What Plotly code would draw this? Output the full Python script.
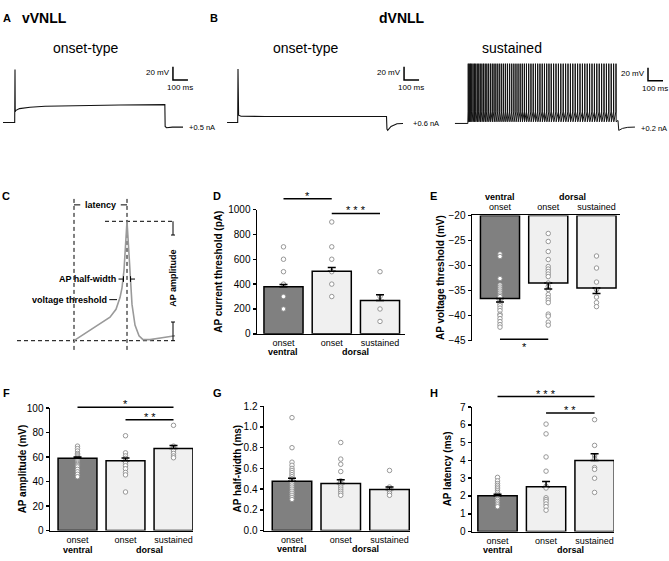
import plotly.graph_objects as go

W, H = 669, 561
FONT = "Liberation Sans, Arial, Helvetica, sans-serif"

# ============================ DATA ============================
# A / B : example recordings (time in ms, membrane potential in mV)
vv_onset_t = [20, 98, 100, 101.5, 104, 130, 200, 300, 500, 800, 1099, 1101, 1110, 1150, 1220]
vv_onset_v = [-60, -60, 20, -44, -42, -39, -37, -35.5, -34.5, -33.5, -33, -66, -68, -67, -67]

dv_onset_t = [47, 118, 120, 121.5, 124, 140, 300, 700, 1110, 1113, 1118, 1140, 1180, 1220]
dv_onset_v = [-60, -60, 21, -47, -49, -50.5, -51, -51, -51, -70, -72, -66, -62, -61.5]

dv_sust_pre_t = [33, 119]
dv_sust_pre_v = [-61.5, -61.5]
dv_sust_spike_t = [121, 128, 136, 144, 153, 162, 171, 181, 191, 201, 212, 223, 234, 245,
                   257, 269, 281, 293, 305, 318, 331, 344, 357, 370, 383, 397, 411, 425,
                   439, 453, 467, 481, 495, 509, 524, 539, 554, 569, 584, 599, 614, 629,
                   644, 659, 674, 690, 706, 722, 738, 754, 770, 786, 802, 818, 834, 850,
                   866, 882, 898, 914, 930, 946, 962, 978, 994, 1010, 1026, 1042, 1058,
                   1074, 1090, 1106]
dv_sust_spike_peak = 29
dv_sust_spike_thr = -44
dv_sust_spike_ahp = -59
dv_sust_post_t = [1120, 1125, 1150, 1185, 1233]
dv_sust_post_v = [-57, -72, -69, -67.4, -67]

trace_titles = ["onset-type", "onset-type", "sustained"]
step_currents = ["+0.5 nA", "+0.6 nA", "+0.2 nA"]
scale_mv, scale_ms = 20, 100

# C : schematic action potential (ms, mV)
ap_t = [2.56, 3.12, 3.60, 4.00, 4.24, 4.40, 4.48, 4.56, 4.62, 4.68, 4.74, 4.80, 4.88,
        5.00, 5.16, 5.32, 5.60, 6.08, 6.60]
ap_v = [-70.0, -64.1, -58.9, -54.3, -49.0, -41.1, -34.6, -22.8, -6.4, 10.0, -6.4, -26.1,
        -45.7, -59.5, -66.7, -69.3, -69.3, -68.0, -66.7]
ap_stim_t, ap_peak_t, ap_base_v, ap_peak_v = 2.56, 4.68, -70, 10

# D-H : group summaries
groups = ["onset", "onset", "sustained"]
regions = ["ventral", "dorsal"]

d_mean = [378, 504, 268]
d_sem = [18, 30, 47]
d_pts = [[700, 600, 500, 400, 300, 200], [900, 700, 600, 500, 400, 300], [500, 300, 200, 100]]

e_mean = [-36.6, -33.5, -34.5]
e_sem = [0.7, 1.2, 1.1]
e_pts = [[-27.7, -28.2, -32.6, -33.9, -34.3, -34.7, -35.1, -35.5, -35.9, -36.2, -36.8, -37.2,
          -37.6, -38.0, -38.5, -39.0, -39.7, -40.0, -40.6, -41.2, -41.8, -42.3],
         [-23.6, -25.2, -27.2, -28.8, -30.2, -30.7, -31.2, -31.7, -32.2, -33.5, -34.2, -34.8,
          -35.8, -36.4, -36.9, -37.4, -39.7, -40.1, -41.3, -41.9],
         [-28.1, -30.5, -33.3, -34.8, -36.3, -37.4, -38.2]]

f_mean = [59, 57, 67]
f_sem = [1.2, 2.3, 2.5]
f_pts = [[69, 67, 65, 63, 62, 61, 60, 59, 58, 57, 56, 55, 54, 53, 52, 50, 48, 46, 44],
         [77.5, 63.5, 61, 59, 57, 55, 53, 50.5, 47.5, 45.5, 31.5],
         [86, 69, 67, 65, 63, 61, 59.5]]

g_mean = [0.475, 0.455, 0.395]
g_sem = [0.03, 0.035, 0.025]
g_pts = [[1.09, 0.80, 0.66, 0.63, 0.60, 0.58, 0.56, 0.54, 0.52, 0.50, 0.48, 0.46, 0.44, 0.42,
          0.40, 0.38, 0.36, 0.34, 0.32, 0.30],
         [0.85, 0.69, 0.64, 0.57, 0.48, 0.46, 0.44, 0.42, 0.40, 0.38, 0.36, 0.34],
         [0.58, 0.42, 0.40, 0.38, 0.36, 0.34]]

h_mean = [2.02, 2.52, 4.0]
h_sem = [0.08, 0.3, 0.38]
h_pts = [[3.05, 2.85, 2.7, 2.6, 2.5, 2.4, 2.3, 2.2, 2.1, 2.0, 1.9, 1.8, 1.7, 1.6, 1.5, 1.4],
         [6.05, 5.5, 4.2, 3.4, 2.55, 2.45, 1.9, 1.8, 1.7, 1.55, 1.4, 1.2],
         [6.3, 4.85, 4.25, 4.1, 3.6, 3.5, 3.0, 2.2]]

# ============================ FIGURE ============================
fig = go.Figure()
layout = dict(width=W, height=H, margin=dict(l=0, r=0, t=0, b=0),
              paper_bgcolor="white", plot_bgcolor="rgba(0,0,0,0)", showlegend=False,
              font=dict(family=FONT, color="black"))
annotations, shapes = [], []


def ref(a, n):
    return a if n == 1 else f"{a}{n}"


def key(a, n):
    return f"{a}axis" if n == 1 else f"{a}axis{n}"


def px_x(p):
    return p / W


def px_y(p):
    return 1 - p / H


def ann(text, x, y, size, xref="paper", yref="paper", xanchor="center", yanchor="middle",
        angle=0, color="black"):
    annotations.append(dict(text=text, x=x, y=y, xref=xref, yref=yref, xanchor=xanchor,
                            yanchor=yanchor, showarrow=False, textangle=angle, borderpad=0,
                            font=dict(size=size, family=FONT, color=color)))


# ---------------- A / B traces ----------------
MS_PX = 100 / 15.0
MV_PX = 20 / 13.5
TR_TOP, TR_BOT, REST_PX = 50, 135, 119


def trace_axes(n, x0, x1, origin):
    layout[key("x", n)] = dict(domain=[px_x(x0), px_x(x1)],
                               range=[(x0 - origin) * MS_PX, (x1 - origin) * MS_PX],
                               visible=False, anchor=ref("y", n))
    layout[key("y", n)] = dict(domain=[px_y(TR_BOT), px_y(TR_TOP)],
                               range=[-60 - (TR_BOT - REST_PX) * MV_PX, -60 + (REST_PX - TR_TOP) * MV_PX],
                               visible=False, anchor=ref("x", n))


sust_t = list(dv_sust_pre_t)
sust_v = list(dv_sust_pre_v)
for ts in dv_sust_spike_t:
    sust_t += [ts, ts + 0.7, ts + 1.8]
    sust_v += [dv_sust_spike_thr, dv_sust_spike_peak, dv_sust_spike_ahp]
sust_t += dv_sust_post_t
sust_v += dv_sust_post_v

trace_sets = [
    dict(n=1, dom=(0, 222), origin=0, t=vv_onset_t, v=vv_onset_v, lw=1.1,
         sb_t=1153, sb_v=24.4, cur_t=1253, cur_v=-67.4),
    dict(n=2, dom=(222, 446), origin=220, t=dv_onset_t, v=dv_onset_v, lw=1.1,
         sb_t=1227, sb_v=24.4, cur_t=1280, cur_v=-61.5),
    dict(n=3, dom=(446, 669), origin=450, t=sust_t, v=sust_v, lw=1.0,
         sb_t=1320, sb_v=23.0, cur_t=1267, cur_v=-68.9),
]
for i, ts in enumerate(trace_sets):
    n = ts["n"]
    trace_axes(n, ts["dom"][0], ts["dom"][1], ts["origin"])
    fig.add_trace(go.Scatter(x=ts["t"], y=ts["v"], mode="lines",
                             line=dict(color="#111111", width=ts["lw"]),
                             xaxis=ref("x", n), yaxis=ref("y", n), hoverinfo="skip"))
    sbt, sbv = ts["sb_t"], ts["sb_v"]
    fig.add_trace(go.Scatter(x=[sbt, sbt, sbt + scale_ms], y=[sbv, sbv - scale_mv, sbv - scale_mv],
                             mode="lines", line=dict(color="black", width=1.5),
                             xaxis=ref("x", n), yaxis=ref("y", n), hoverinfo="skip"))
    ann(f"{scale_mv} mV", sbt - 12, sbv - 9, 8, ref("x", n), ref("y", n), xanchor="right")
    ann(f"{scale_ms} ms", sbt + 45, sbv - scale_mv - 12, 8, ref("x", n), ref("y", n))
    ann(step_currents[i], ts["cur_t"], ts["cur_v"], 7.5, ref("x", n), ref("y", n), xanchor="left")

ann("<b>A</b>", px_x(7), px_y(12), 11)
ann("<b>vVNLL</b>", px_x(44), px_y(12), 14)
ann("<b>B</b>", px_x(214), px_y(12), 11)
ann("<b>dVNLL</b>", px_x(402), px_y(12), 14)
for title, cx in zip(trace_titles, [86, 306, 512]):
    ann(title, px_x(cx), px_y(43), 14)

# ---------------- C schematic ----------------
nC = 4
C_X0, C_X1, C_Y0, C_Y1 = 10, 185, 195, 360
C_PX_MS, C_PX_MV = 25.0, 1.525
layout[key("x", nC)] = dict(domain=[px_x(C_X0), px_x(C_X1)], range=[0, (C_X1 - C_X0) / C_PX_MS],
                            visible=False, anchor=ref("y", nC))
layout[key("y", nC)] = dict(domain=[px_y(C_Y1), px_y(C_Y0)],
                            range=[ap_base_v - (C_Y1 - 342) / C_PX_MV, ap_base_v + (342 - C_Y0) / C_PX_MV],
                            visible=False, anchor=ref("x", nC))


def c_line(xs, ys, dash="solid", width=1.0, color="black"):
    fig.add_trace(go.Scatter(x=xs, y=ys, mode="lines", line=dict(color=color, width=width, dash=dash),
                             xaxis=ref("x", nC), yaxis=ref("y", nC), hoverinfo="skip"))


dash = "4px,3px"
c_line([0.28, 6.6], [ap_base_v, ap_base_v], dash)
c_line([3.8, 6.6], [ap_peak_v, ap_peak_v], dash)
c_line([ap_stim_t, ap_stim_t], [25, -77.2], dash)
c_line([ap_peak_t, ap_peak_t], [25, -77.2], dash)
c_line(ap_t, ap_v, width=1.6, color="#9a9a9a")
# latency marker
c_line([ap_stim_t, ap_stim_t + 0.25], [21, 21])
c_line([ap_peak_t - 0.25, ap_peak_t], [21, 21])
ann("<b>latency</b>", (ap_stim_t + ap_peak_t) / 2, 21, 9, ref("x", nC), ref("y", nC))
# amplitude marker
c_line([6.52, 6.52], [ap_peak_v, 0.8])
c_line([6.44, 6.60], [0.8, 0.8])
c_line([6.52, 6.52], [-57.5, ap_base_v])
c_line([6.44, 6.60], [-57.5, -57.5])
ann("<b>AP amplitude</b>", 6.52, -28.5, 9, ref("x", nC), ref("y", nC), angle=-90)
# half-width marker
c_line([4.34, 4.54], [-28.7, -28.7])
c_line([4.54, 4.54], [-26.8, -30.6])
c_line([4.82, 5.0], [-28.7, -28.7])
c_line([4.82, 4.82], [-26.8, -30.6])
ann("<b>AP half-width</b>", 4.29, -28.7, 9, ref("x", nC), ref("y", nC), xanchor="right")
# threshold marker
c_line([3.97, 4.28], [-42.5, -42.5])
ann("<b>voltage threshold</b>", 3.93, -42.5, 9, ref("x", nC), ref("y", nC), xanchor="right")

# ---------------- D-H bar panels ----------------
BAR_COLORS = ["#808080", "#f0f0f0", "#f0f0f0"]


def bar_panel(n, xpx, ypx, xr, yr, means, sems, pts, tickvals, title, title_x,
              region_y, base=None, tickformat=None):
    top_axis = base is not None
    layout[key("x", n)] = dict(domain=[px_x(xpx[0]), px_x(xpx[1])], range=list(xr),
                               anchor=ref("y", n), side="top" if top_axis else "bottom",
                               showline=True, linecolor="black", linewidth=1.5, ticks="",
                               tickmode="array", tickvals=[0, 1, 2], ticktext=groups,
                               tickfont=dict(size=9, family=FONT), showgrid=False, zeroline=False)
    layout[key("y", n)] = dict(domain=[px_y(ypx[1]), px_y(ypx[0])], range=list(yr),
                               anchor=ref("x", n), showline=True, linecolor="black", linewidth=1.5,
                               ticks="outside", ticklen=3, tickwidth=1.5, tickcolor="black",
                               tickmode="array", tickvals=tickvals, tickformat=tickformat,
                               tickfont=dict(size=10, family=FONT), showgrid=False, zeroline=False)
    if base is None:
        fig.add_trace(go.Bar(x=[0, 1, 2], y=means, width=0.81,
                             marker=dict(color=BAR_COLORS, line=dict(color="black", width=1.5)),
                             xaxis=ref("x", n), yaxis=ref("y", n), hoverinfo="skip"))
    else:
        fig.add_trace(go.Bar(x=[0, 1, 2], y=[m - base for m in means], base=base, width=0.81,
                             marker=dict(color=BAR_COLORS, line=dict(color="black", width=1.5)),
                             xaxis=ref("x", n), yaxis=ref("y", n), hoverinfo="skip"))
    for i, p in enumerate(pts):
        fig.add_trace(go.Scatter(x=[i] * len(p), y=p, mode="markers", cliponaxis=False,
                                 marker=dict(size=4.5, color="white", line=dict(color="#8c8c8c", width=0.9)),
                                 xaxis=ref("x", n), yaxis=ref("y", n), hoverinfo="skip"))
    zeros = [0, 0, 0]
    fig.add_trace(go.Scatter(x=[0, 1, 2], y=means, mode="markers", cliponaxis=False,
                             marker=dict(size=1, color="rgba(0,0,0,0)"),
                             error_y=dict(type="data", symmetric=False,
                                          array=zeros if top_axis else sems,
                                          arrayminus=sems if top_axis else zeros,
                                          color="black", thickness=1.5, width=4),
                             xaxis=ref("x", n), yaxis=ref("y", n), hoverinfo="skip"))
    ann(f"<b>{title}</b>", px_x(title_x), px_y((ypx[0] + ypx[1]) / 2), 10, angle=-90)
    ann(f"<b>{regions[0]}</b>", 0, px_y(region_y), 9, xref=ref("x", n))
    ann(f"<b>{regions[1]}</b>", 1.5, px_y(region_y), 9, xref=ref("x", n))

    def y_px(v):
        return ypx[1] - (v - yr[0]) / (yr[1] - yr[0]) * (ypx[1] - ypx[0])

    return y_px


def sig(n, ypx_fn, a, b, level, stars, below=False):
    yp = ypx_fn(level)
    shapes.append(dict(type="line", xref=ref("x", n), yref="paper", x0=a, x1=b,
                       y0=px_y(yp), y1=px_y(yp), line=dict(color="black", width=1.5)))
    ann(stars, (a + b) / 2, px_y(yp + 8 if below else yp - 3), 11, xref=ref("x", n))


yD = bar_panel(5, (257, 405), (208, 335), (-0.549, 2.518), (0, 1000), d_mean, d_sem, d_pts,
               [0, 200, 400, 600, 800, 1000], "AP current threshold (pA)", 219, 354)
sig(5, yD, 0, 1, 1087, "*")
sig(5, yD, 1, 2, 969, "* * *")

yE = bar_panel(6, (472, 620), (214, 342), (-0.58, 2.487), (-45, -20), e_mean, e_sem, e_pts,
               [-45, -40, -35, -30, -25, -20], "AP voltage threshold (mV)", 440, 195, base=-20)
sig(6, yE, 0, 1, -44.7, "*", below=True)

yF = bar_panel(7, (50, 193), (411, 536), (-0.573, 2.406), (0, 100), f_mean, f_sem, f_pts,
               [0, 20, 40, 60, 80, 100], "AP amplitude (mV)", 22, 556)
sig(7, yF, 0, 2, 100.8, "*")
sig(7, yF, 1, 2, 90.5, "* *")

yG = bar_panel(8, (264, 410), (409, 536), (-0.574, 2.42), (0, 1.2), g_mean, g_sem, g_pts,
               [0, 0.2, 0.4, 0.6, 0.8, 1.0, 1.2], "AP half-width (ms)", 237, 555, tickformat=".1f")

yH = bar_panel(9, (472, 614), (410, 537), (-0.526, 2.40), (0, 7), h_mean, h_sem, h_pts,
               [0, 1, 2, 3, 4, 5, 6, 7], "AP latency (ms)", 447, 556)
sig(9, yH, 0, 2, 7.6, "* * *")
sig(9, yH, 1, 2, 6.67, "* *")

for lab, x, y in [("C", 6, 194), ("D", 217, 194), ("E", 433, 194),
                  ("F", 6, 395), ("G", 217, 395), ("H", 434, 395)]:
    ann(f"<b>{lab}</b>", px_x(x), px_y(y), 11)

layout["annotations"] = annotations
layout["shapes"] = shapes
fig.update_layout(**layout)
fig.write_html("out.html", config=dict(displayModeBar=False, staticPlot=True),
               post_script="document.body.style.margin='0px'; document.body.style.overflow='hidden';")
